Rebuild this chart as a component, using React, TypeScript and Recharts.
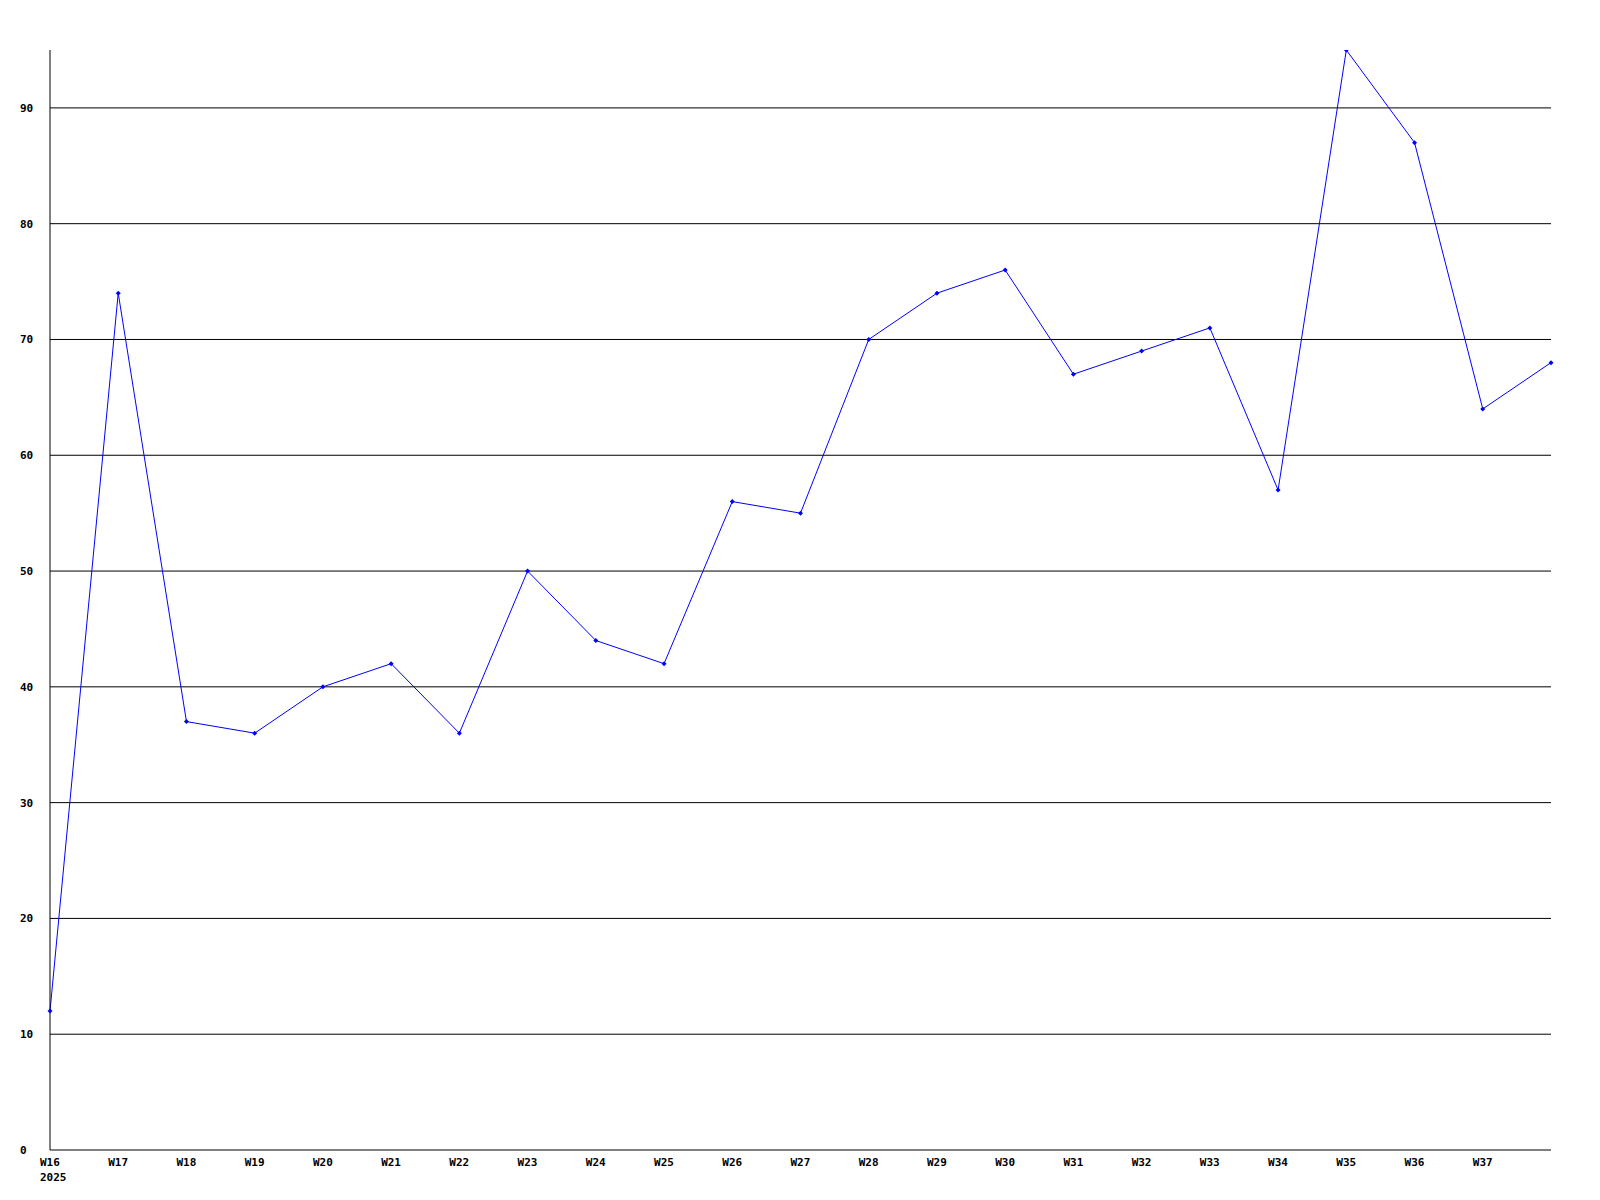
import { LineChart, Line, XAxis, YAxis, CartesianGrid } from 'recharts'

const weeks = [
  'W16', 'W17', 'W18', 'W19', 'W20', 'W21', 'W22', 'W23', 'W24', 'W25', 'W26', 'W27',
  'W28', 'W29', 'W30', 'W31', 'W32', 'W33', 'W34', 'W35', 'W36', 'W37', 'W38',
]
const values = [12, 74, 37, 36, 40, 42, 36, 50, 44, 42, 56, 55, 70, 74, 76, 67, 69, 71, 57, 95, 87, 64, 68]
const yTicks = [0, 10, 20, 30, 40, 50, 60, 70, 80, 90]
const gridValues = yTicks.slice(1)
const xTicks = weeks.slice(0, 22)
const year = '2025'

const data = weeks.map((w, i) => ({ week: w, value: values[i] }))

const font = { fontFamily: '"DejaVu Sans Mono", monospace', fontSize: 11, fontWeight: 'bold' as const }

function XTick(props: { x?: number; y?: number; payload?: { value: string; index: number } }) {
  const { x = 0, y = 0, payload } = props
  return (
    <g>
      <text x={x - 10} y={y + 8} fill="#000" textAnchor="start" style={font}>
        {payload?.value}
      </text>
      {payload?.index === 0 && (
        <text x={x - 10} y={y + 23} fill="#000" textAnchor="start" style={font}>
          {year}
        </text>
      )}
    </g>
  )
}

function YTick(props: { x?: number; y?: number; payload?: { value: number } }) {
  const { y = 0, payload } = props
  return (
    <text x={20} y={y + 4} fill="#000" textAnchor="start" style={font}>
      {payload?.value}
    </text>
  )
}

function Dot(props: { cx?: number; cy?: number }) {
  const { cx, cy } = props
  if (cx == null || cy == null) return null
  return <path d={`M${cx} ${cy - 2.5}L${cx + 2.5} ${cy}L${cx} ${cy + 2.5}L${cx - 2.5} ${cy}Z`} fill="#0000ff" />
}

export default function App() {
  return (
    <div style={{ position: 'absolute', left: 0, top: 0, background: '#fff' }}>
      <LineChart width={1600} height={1200} data={data} margin={{ top: 50, right: 49, bottom: 0, left: 0 }}>
        <CartesianGrid horizontal vertical={false} horizontalValues={gridValues} stroke="#000" strokeWidth={1} />
        <XAxis
          dataKey="week"
          ticks={xTicks}
          interval={0}
          tick={<XTick />}
          tickLine={false}
          axisLine={{ stroke: '#000' }}
          height={50}
          padding={{ left: 0, right: 0 }}
        />
        <YAxis
          domain={[0, 95]}
          ticks={yTicks}
          tick={<YTick />}
          tickLine={false}
          axisLine={{ stroke: '#000' }}
          width={50}
          allowDataOverflow
        />
        <Line
          type="linear"
          dataKey="value"
          stroke="#0000ff"
          strokeWidth={1}
          dot={<Dot />}
          activeDot={false}
          isAnimationActive={false}
        />
      </LineChart>
    </div>
  )
}
